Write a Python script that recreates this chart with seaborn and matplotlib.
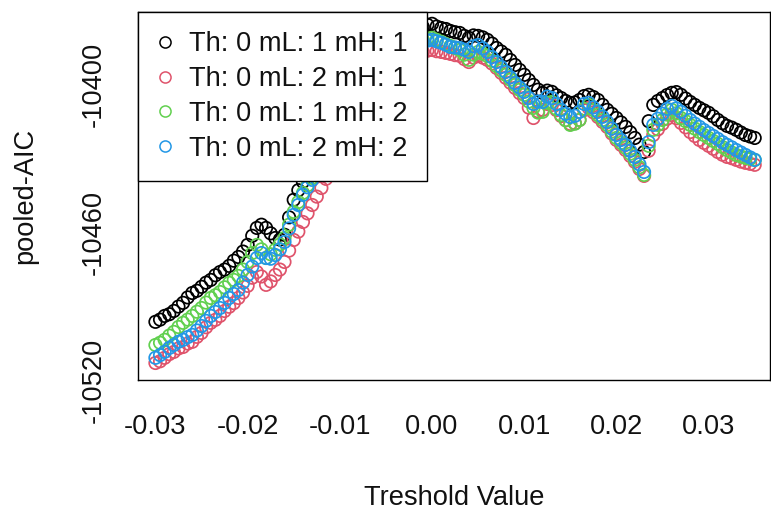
import numpy as np
import pandas as pd
import matplotlib
matplotlib.use("Agg")
import matplotlib.pyplot as plt
from matplotlib.lines import Line2D
import seaborn as sns

# ---------------- data ----------------
# threshold grid: -0.030 ... 0.035 in steps of 0.0005 (131 values)
thresholds = np.round(np.linspace(-0.030, 0.035, 131), 4)

aic_mL1_mH1 = [
    -10496.4, -10495.5, -10494.0, -10493.3, -10492.0, -10490.2, -10488.7, -10486.5, -10484.7, -10483.8,
    -10482.2, -10480.5, -10479.4, -10477.5, -10476.2, -10475.2, -10473.7, -10471.6, -10470.1, -10467.9,
    -10465.2, -10461.5, -10458.3, -10457.0, -10458.3, -10460.5, -10462.4, -10463.0, -10461.1, -10454.0,
    -10446.9, -10443.0, -10439.6, -10437.0, -10434.0, -10431.5, -10428.7, -10425.6, -10422.6, -10419.5,
    -10416.5, -10413.4, -10410.4, -10408.0, -10405.6, -10403.0, -10400.3, -10397.6, -10395.0, -10393.0,
    -10391.0, -10389.0, -10386.9, -10384.8, -10382.8, -10381.2, -10379.6, -10378.2, -10376.8, -10375.9,
    -10375.5, -10376.6, -10377.2, -10377.6, -10378.4, -10378.9, -10379.2, -10380.4, -10381.2, -10380.2,
    -10380.4, -10381.0, -10382.0, -10383.5, -10385.3, -10386.7, -10388.1, -10390.2, -10392.2, -10394.2,
    -10396.2, -10398.3, -10400.3, -10402.2, -10403.5, -10402.6, -10403.1, -10404.5, -10405.6, -10406.8,
    -10407.6, -10407.4, -10406.4, -10404.8, -10404.3, -10405.2, -10406.4, -10408.4, -10410.4, -10412.0,
    -10413.7, -10415.5, -10417.3, -10419.5, -10421.8, -10424.5, -10427.5, -10415.0, -10408.4, -10406.8,
    -10405.6, -10404.4, -10403.5, -10403.2, -10404.3, -10405.8, -10407.2, -10408.4, -10409.6, -10410.6,
    -10411.6, -10413.0, -10414.5, -10415.8, -10416.9, -10417.6, -10418.5, -10419.6, -10420.6, -10421.2,
    -10421.8]

aic_mL2_mH1 = [
    -10513.1, -10512.4, -10511.0, -10509.5, -10508.6, -10507.2, -10506.6, -10505.2, -10504.5, -10502.5,
    -10500.9, -10498.6, -10496.8, -10495.6, -10494.0, -10492.0, -10490.3, -10488.8, -10486.7, -10484.5,
    -10481.8, -10478.5, -10476.2, -10478.0, -10481.4, -10480.0, -10477.4, -10475.2, -10472.1, -10467.5,
    -10463.2, -10459.8, -10455.9, -10452.4, -10449.0, -10445.6, -10442.1, -10438.4, -10434.8, -10431.8,
    -10428.7, -10425.6, -10422.6, -10419.5, -10416.5, -10413.4, -10410.4, -10407.8, -10405.2, -10402.7,
    -10400.3, -10398.0, -10395.8, -10394.0, -10392.2, -10390.5, -10388.9, -10387.8, -10386.9, -10386.4,
    -10386.1, -10386.6, -10386.9, -10387.3, -10387.7, -10388.2, -10388.5, -10389.8, -10391.0, -10389.2,
    -10388.5, -10389.2, -10390.1, -10391.6, -10393.4, -10395.4, -10397.4, -10399.4, -10401.5, -10403.6,
    -10405.6, -10409.5, -10413.7, -10411.0, -10410.4, -10408.0, -10408.4, -10410.5, -10412.9, -10414.6,
    -10416.1, -10415.8, -10414.5, -10410.5, -10409.6, -10411.4, -10413.3, -10415.3, -10417.3, -10420.0,
    -10422.6, -10424.6, -10426.7, -10429.1, -10431.5, -10434.4, -10437.2, -10427.0, -10420.6, -10418.3,
    -10416.1, -10414.0, -10412.5, -10413.8, -10415.7, -10417.5, -10419.4, -10421.0, -10422.6, -10423.8,
    -10425.0, -10426.2, -10427.5, -10428.6, -10429.5, -10430.0, -10430.7, -10431.4, -10431.9, -10432.3,
    -10432.7]

aic_mL1_mH2 = [
    -10505.8, -10504.9, -10503.7, -10502.0, -10500.5, -10498.5, -10496.8, -10495.5, -10494.0, -10492.3,
    -10490.8, -10488.6, -10486.7, -10485.6, -10484.3, -10482.4, -10480.6, -10479.4, -10477.8, -10475.2,
    -10472.1, -10468.5, -10465.2, -10467.0, -10470.5, -10469.0, -10467.2, -10465.0, -10462.4, -10457.0,
    -10451.8, -10447.8, -10444.1, -10441.0, -10438.0, -10435.0, -10431.9, -10428.8, -10425.8, -10422.8,
    -10419.8, -10416.7, -10413.7, -10411.0, -10408.4, -10405.7, -10403.1, -10400.6, -10398.3, -10396.2,
    -10394.2, -10392.1, -10390.1, -10388.4, -10386.9, -10385.4, -10384.1, -10383.0, -10382.0, -10381.5,
    -10381.2, -10382.0, -10382.8, -10383.7, -10384.5, -10385.3, -10386.1, -10388.0, -10390.1, -10388.0,
    -10386.9, -10387.6, -10388.5, -10390.5, -10392.6, -10394.4, -10396.2, -10398.2, -10400.3, -10402.3,
    -10404.3, -10407.0, -10409.6, -10411.5, -10411.2, -10407.5, -10407.2, -10410.0, -10412.5, -10414.6,
    -10416.5, -10416.0, -10414.5, -10410.0, -10408.4, -10410.5, -10412.5, -10414.5, -10416.5, -10419.2,
    -10421.8, -10423.8, -10425.8, -10428.2, -10430.7, -10433.7, -10436.8, -10425.0, -10418.5, -10416.5,
    -10414.5, -10412.3, -10410.4, -10411.8, -10413.7, -10415.0, -10416.5, -10418.0, -10419.4, -10420.6,
    -10421.8, -10423.0, -10424.2, -10425.5, -10426.7, -10427.7, -10428.7, -10429.3, -10429.9, -10430.3,
    -10430.7]

aic_mL2_mH2 = [
    -10511.0, -10509.9, -10508.6, -10507.0, -10505.8, -10504.5, -10503.7, -10502.6, -10501.7, -10499.9,
    -10498.1, -10496.0, -10494.0, -10492.4, -10490.8, -10488.7, -10486.7, -10485.1, -10483.5, -10480.5,
    -10477.4, -10474.0, -10470.5, -10468.5, -10470.5, -10470.8, -10469.3, -10467.0, -10464.0, -10458.5,
    -10453.0, -10449.0, -10444.9, -10441.8, -10438.8, -10435.7, -10432.7, -10429.7, -10426.7, -10423.6,
    -10420.6, -10417.5, -10414.5, -10411.6, -10408.8, -10406.1, -10403.5, -10400.9, -10398.3, -10396.2,
    -10394.2, -10392.1, -10390.1, -10388.4, -10386.9, -10385.6, -10384.5, -10383.6, -10382.8, -10382.3,
    -10382.0, -10382.6, -10383.2, -10384.0, -10384.9, -10385.1, -10385.3, -10386.0, -10386.9, -10384.6,
    -10384.1, -10385.4, -10386.9, -10389.0, -10391.0, -10393.0, -10395.0, -10397.2, -10399.5, -10401.3,
    -10403.1, -10405.6, -10408.0, -10407.0, -10407.2, -10405.0, -10405.6, -10408.0, -10410.4, -10412.0,
    -10413.3, -10412.8, -10411.2, -10408.0, -10407.6, -10409.4, -10411.2, -10413.2, -10415.3, -10418.0,
    -10420.6, -10422.6, -10424.6, -10427.0, -10429.5, -10432.5, -10435.6, -10423.5, -10416.5, -10414.0,
    -10412.0, -10410.0, -10408.8, -10409.8, -10411.2, -10412.8, -10414.5, -10416.0, -10417.3, -10418.6,
    -10419.8, -10421.0, -10422.2, -10423.5, -10424.6, -10425.6, -10426.7, -10427.7, -10428.7, -10429.7,
    -10430.7]

series_labels = ["Th: 0 mL: 1 mH: 1", "Th: 0 mL: 2 mH: 1",
                 "Th: 0 mL: 1 mH: 2", "Th: 0 mL: 2 mH: 2"]
series_values = [aic_mL1_mH1, aic_mL2_mH1, aic_mL1_mH2, aic_mL2_mH2]
series_colors = ["#000000", "#DF536B", "#61D04F", "#2297E6"]

x_ticks = [-0.03, -0.02, -0.01, 0.00, 0.01, 0.02, 0.03]
x_ticklabels = ["-0.03", "-0.02", "-0.01", "0.00", "0.01", "0.02", "0.03"]
y_ticks = [-10520, -10500, -10480, -10460, -10440, -10420, -10400, -10380]
y_ticklabels = ["-10520", "", "", "-10460", "", "", "-10400", ""]

for v in series_values:
    assert len(v) == len(thresholds)

# ---------------- styling ----------------
sns.set_theme(style="white")
plt.rcParams["font.family"] = ["Liberation Sans", "DejaVu Sans"]
plt.rcParams["axes.unicode_minus"] = False

FS = 19.6

fig = plt.figure(figsize=(7.71, 5.16), dpi=100)
W, H = 771, 516
left, right, top, bottom = 138, 770, 12, 380
ax = fig.add_axes([left / W, 1 - bottom / H, (right - left) / W, (bottom - top) / H])

for lab, vals, col in zip(series_labels, series_values, series_colors):
    df = pd.DataFrame({"threshold": thresholds, "aic": vals})
    sns.scatterplot(data=df, x="threshold", y="aic", ax=ax, marker="o", s=80,
                    color=col, facecolor="none", edgecolor=col, linewidth=1.25,
                    legend=False, zorder=3)
for coll, col in zip(ax.collections, series_colors):
    coll.set_facecolor("none")
    coll.set_edgecolor(col)

ax.set_xlim(-0.03189, 0.03666)
ax.set_ylim(-10520.0, -10370.7)

ax.set_xticks(x_ticks)
ax.set_xticklabels(x_ticklabels)
ax.set_yticks(y_ticks)
ax.set_yticklabels(y_ticklabels, rotation=90, va="center")

ax.tick_params(axis="both", direction="out", length=11.5, width=1.0,
               color="black", labelsize=FS, labelcolor="#111111")
ax.tick_params(axis="x", pad=13)
ax.tick_params(axis="y", pad=11)

for sp in ax.spines.values():
    sp.set_visible(True)
    sp.set_color("black")
    sp.set_linewidth(1.0)

ax.set_xlabel("Treshold Value", fontsize=FS, color="#111111")
ax.set_ylabel("pooled-AIC", fontsize=FS, color="#111111")
ax.xaxis.set_label_coords(0.5, -0.322)
ax.xaxis.label.set_va("center")
ax.yaxis.set_label_coords(-0.179, 0.5)
ax.yaxis.label.set_va("center")

handles = [Line2D([0], [0], marker="o", linestyle="none", markersize=8,
                  markerfacecolor="none", markeredgecolor=c, markeredgewidth=1.1)
           for c in series_colors]
leg = ax.legend(handles, series_labels, loc="upper left", bbox_to_anchor=(0, 1),
                borderaxespad=0, frameon=True, fancybox=False, shadow=False,
                fontsize=FS, labelspacing=0.33, borderpad=0.7,
                handlelength=0.55, handletextpad=0.62, framealpha=1)
leg.get_frame().set_edgecolor("black")
leg.get_frame().set_linewidth(1.0)
leg.set_zorder(10)
for t in leg.get_texts():
    t.set_color("#111111")

fig.savefig("out.png", dpi=100)
